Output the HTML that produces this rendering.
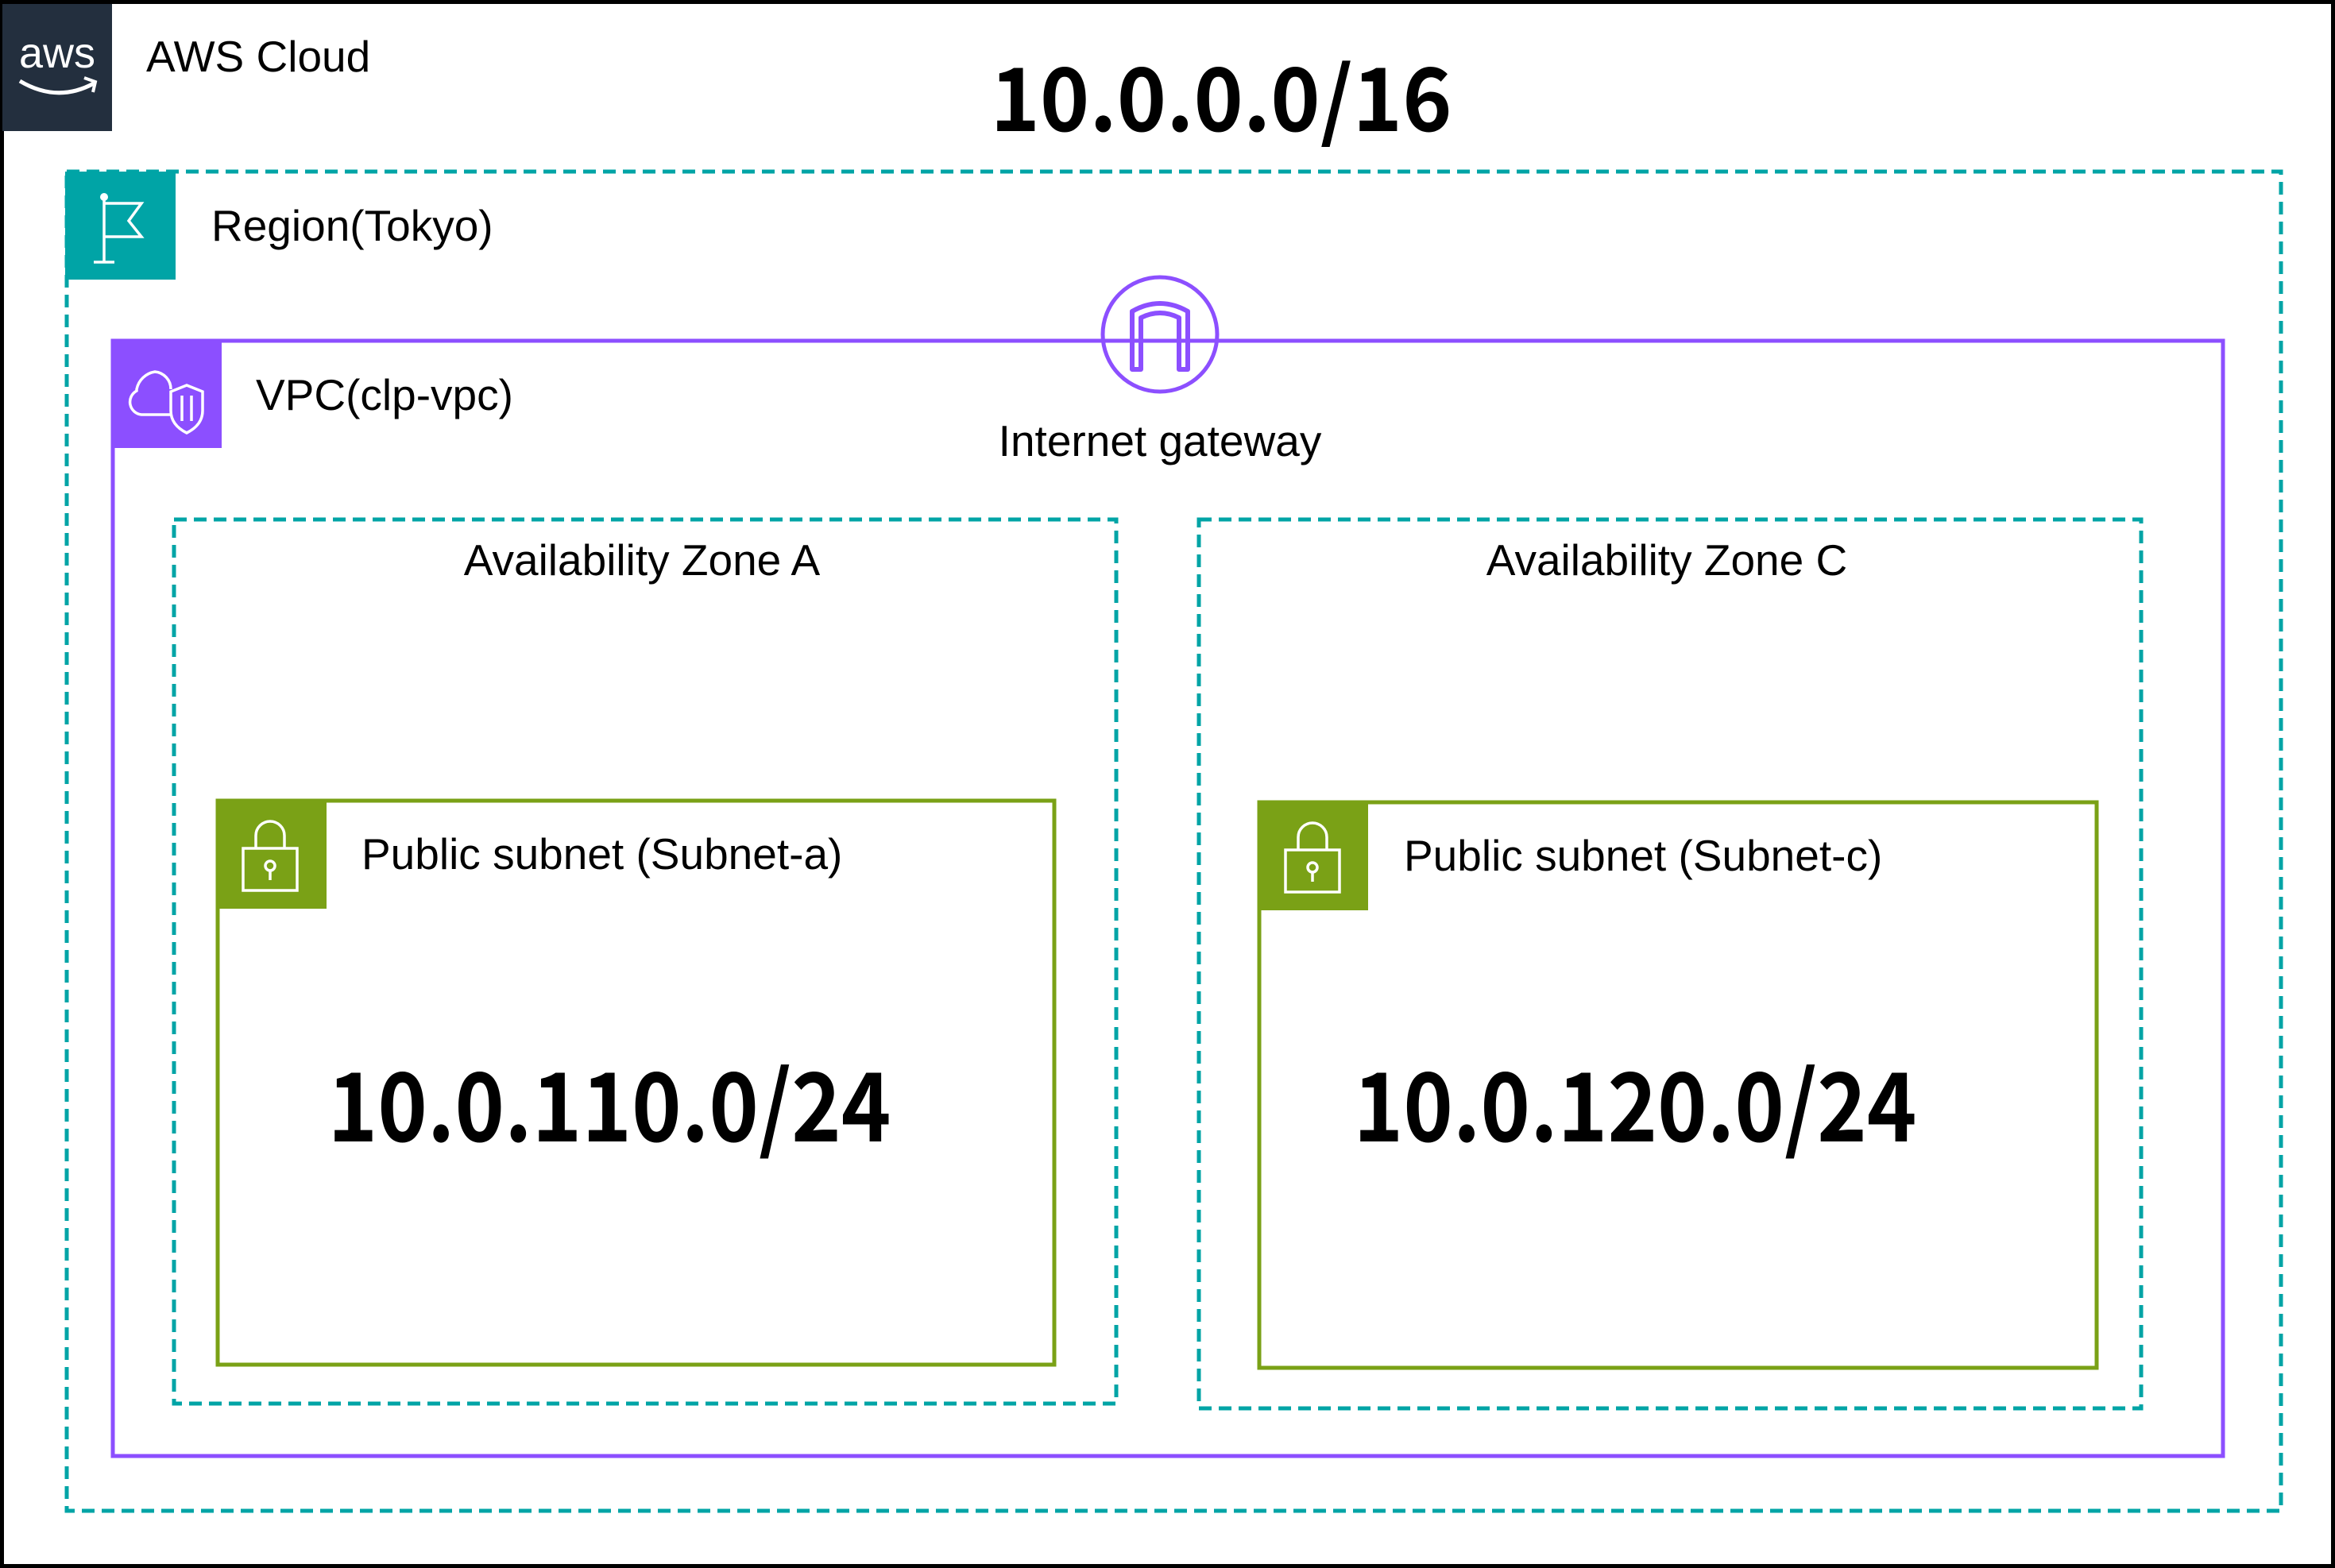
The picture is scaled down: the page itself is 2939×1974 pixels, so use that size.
<!DOCTYPE html>
<html><head><meta charset="utf-8"><style>html,body{margin:0;padding:0;background:#fff}svg{display:block}</style></head>
<body>
<svg width="2939" height="1974" viewBox="0 0 2939 1974" xmlns="http://www.w3.org/2000/svg" font-family="Liberation Sans, sans-serif">
<rect x="2.5" y="2.5" width="2934" height="1969" fill="#fff" stroke="#000" stroke-width="5"/>
<!-- AWS logo -->
<rect x="3" y="5" width="138" height="160" fill="#232F3E"/>
<text x="72" y="85" font-size="54" fill="#fff" text-anchor="middle" font-family="Liberation Sans, sans-serif">aws</text>
<path d="M25 102 Q72 130 118 105" stroke="#fff" stroke-width="5" fill="none"/>
<path d="M106 98 L120 103 L117 116" stroke="#fff" stroke-width="4" fill="none"/>
<text x="184" y="90" font-size="55">AWS Cloud</text>
<text x="1537" y="165" font-size="110" font-weight="bold" text-anchor="middle" font-family="Noto Sans CJK JP, sans-serif" textLength="581" lengthAdjust="spacingAndGlyphs">10.0.0.0/16</text>
<!-- Region -->
<rect x="84" y="216" width="2787" height="1686" fill="none" stroke="#00A4A6" stroke-width="5" stroke-dasharray="16 9"/>
<rect x="82" y="216" width="139" height="136" fill="#00A4A6"/>
<g stroke="#fff" stroke-width="3.5" fill="none">
<line x1="131" y1="250" x2="131" y2="330"/><line x1="118" y1="330" x2="144" y2="330"/>
<path d="M131 256 H178 L162 278 L178 298 H131"/>
</g>
<circle cx="131" cy="248" r="5" fill="#fff"/>
<text x="266" y="303" font-size="55">Region(Tokyo)</text>
<!-- VPC -->
<rect x="142" y="429" width="2656" height="1404" fill="none" stroke="#8C4FFF" stroke-width="5"/>
<rect x="140" y="427" width="139" height="137" fill="#8C4FFF"/>
<g stroke="#fff" stroke-width="3.5" fill="none">
<path d="M215 490 A22 22 0 0 0 195 468 A28 28 0 0 0 172 490 L172 492 A16 16 0 0 0 178 522 H215"/>
<path d="M235 485 L255 493 V517 Q255 535 235 545 Q215 535 215 517 V493 Z"/>
<path d="M229 498 V530 M241 498 V530"/>
</g>
<text x="322" y="516" font-size="55">VPC(clp-vpc)</text>
<!-- IGW -->
<circle cx="1460" cy="421" r="72" fill="#fff" stroke="#8C4FFF" stroke-width="5"/>
<line x1="1388" y1="429" x2="1532" y2="429" stroke="#8C4FFF" stroke-width="5"/>
<path d="M1425 465 V392 Q1460 372 1495 392 V465 H1484 V400 Q1460 388 1436 400 V465 Z" fill="none" stroke="#8C4FFF" stroke-width="6" stroke-linejoin="round"/>
<text x="1460" y="574" font-size="55" text-anchor="middle">Internet gateway</text>
<!-- AZ A -->
<rect x="219" y="654" width="1186" height="1113" fill="none" stroke="#00A4A6" stroke-width="5" stroke-dasharray="16 9"/>
<text x="808" y="724" font-size="55" text-anchor="middle">Availability Zone A</text>
<!-- AZ C -->
<rect x="1509" y="654" width="1186" height="1119" fill="none" stroke="#00A4A6" stroke-width="5" stroke-dasharray="16 9"/>
<text x="2098" y="724" font-size="55" text-anchor="middle">Availability Zone C</text>
<!-- Subnet A -->
<rect x="274" y="1008" width="1053" height="710" fill="none" stroke="#7AA116" stroke-width="5"/>
<rect x="272" y="1006" width="139" height="138" fill="#7AA116"/>
<g stroke="#fff" stroke-width="3.5" fill="none">
<path d="M322 1068 V1052 A18 18 0 0 1 358 1052 V1068"/><rect x="306" y="1068" width="68" height="53"/>
<circle cx="340" cy="1090" r="6"/><line x1="340" y1="1096" x2="340" y2="1108"/>
</g>
<text x="455" y="1094" font-size="55">Public subnet (Subnet-a)</text>
<text x="767" y="1437" font-size="120" font-weight="bold" text-anchor="middle" font-family="Noto Sans CJK JP, sans-serif" textLength="709" lengthAdjust="spacingAndGlyphs">10.0.110.0/24</text>
<!-- Subnet C -->
<rect x="1585" y="1010" width="1054" height="712" fill="none" stroke="#7AA116" stroke-width="5"/>
<rect x="1583" y="1008" width="139" height="138" fill="#7AA116"/>
<g stroke="#fff" stroke-width="3.5" fill="none">
<path d="M1634 1070 V1054 A18 18 0 0 1 1670 1054 V1070"/><rect x="1618" y="1070" width="68" height="53"/>
<circle cx="1652" cy="1092" r="6"/><line x1="1652" y1="1098" x2="1652" y2="1110"/>
</g>
<text x="1767" y="1096" font-size="55">Public subnet (Subnet-c)</text>
<text x="2058" y="1437" font-size="120" font-weight="bold" text-anchor="middle" font-family="Noto Sans CJK JP, sans-serif" textLength="709" lengthAdjust="spacingAndGlyphs">10.0.120.0/24</text>
</svg>
</body></html>
